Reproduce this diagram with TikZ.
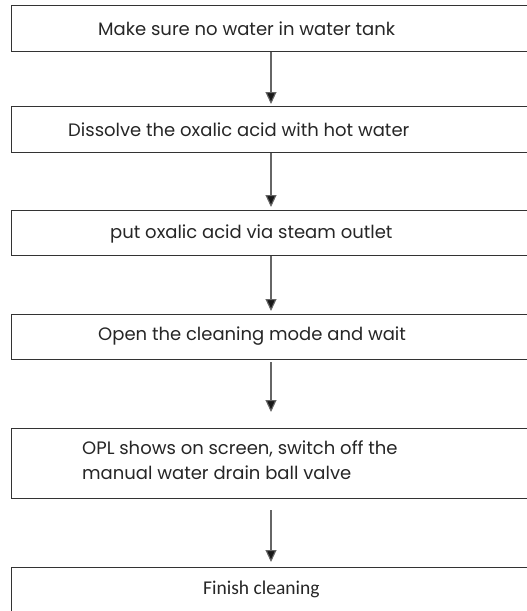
\documentclass[tikz,border=0pt]{standalone}
\usepackage{fontspec}
\setmainfont{Poppins}
\newfontfamily\finfont{Carlito}
\usetikzlibrary{arrows.meta}
\begin{document}
\begin{tikzpicture}[x=1pt,y=1pt,
  box/.style={draw=black!80, line width=1.1pt, rectangle, anchor=north west, minimum width=524pt, inner sep=0pt},
  txt/.style={text=black!85, font=\fontsize{18}{25}\selectfont, inner sep=0pt, anchor=base west},
  arr/.style={draw=black!60, line width=1.1pt, -{Triangle[length=12pt,width=11pt,fill=black!90]}}]
\useasboundingbox (0,0) rectangle (527,-611);
\clip (0,0) rectangle (527,-611);
\fill[white] (0,0) rectangle (527,-611);
\node[box, minimum height=46pt] (b1) at (11,-5) {};
\node[box, minimum height=46pt] (b2) at (11,-106) {};
\node[box, minimum height=45pt] (b3) at (11,-210) {};
\node[box, minimum height=45pt] (b4) at (11,-314) {};
\node[box, minimum height=70pt] (b5) at (11,-428) {};
\node[box, minimum height=60pt] (b6) at (11,-567) {};
\node[txt] (t1) at (98,-35) {Make sure no water in water tank};
\node[txt] (t2) at (68,-136) {Dissolve the oxalic acid with hot water};
\node[txt] (t3) at (110,-238.5) {put oxalic acid via steam outlet};
\node[txt] (t4) at (98,-340.5) {Open the cleaning mode and wait};
\node[txt] (t5a) at (82,-454) {OPL shows on screen, switch off the};
\node[txt] (t5b) at (82,-479) {manual water drain ball valve};
\node[txt, font=\finfont\fontsize{19.5}{24}\selectfont] (t6) at (203,-594) {Finish cleaning};
\coordinate (ax) at (271,0);
\draw[arr, shorten >=2pt] (b1.south -| ax) -- (b2.north -| ax);
\draw[arr, shorten >=3pt] (b2.south -| ax) -- (b3.north -| ax);
\draw[arr, shorten >=3pt] (b3.south -| ax) -- (b4.north -| ax);
\draw[arr, shorten <=2pt, shorten >=16pt] (b4.south -| ax) -- (b5.north -| ax);
\draw[arr, shorten <=11pt, shorten >=5pt] (b5.south -| ax) -- (b6.north -| ax);
\end{tikzpicture}
\end{document}
